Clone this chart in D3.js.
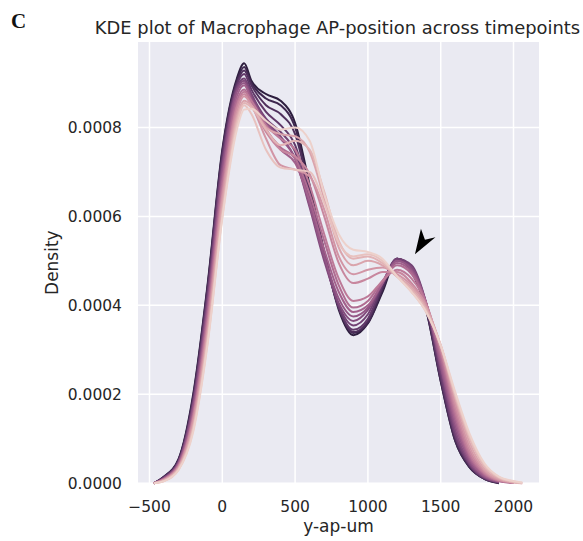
<!DOCTYPE html>
<html>
<head>
<meta charset="utf-8">
<script src="https://cdn.jsdelivr.net/npm/d3@7"></script>
<style>
    html, body { margin: 0; padding: 0; background: #fff; }
    svg text { font-family: 'DejaVu Sans', sans-serif; fill: #262626; }
</style>
</head>
<body>
<div id="chart"></div>
<script>
var xGrid = [-470, -400, -300, -200, -100, 0, 100, 150, 200, 300, 400, 500, 600, 700, 800, 900, 1000, 1100, 1200, 1300, 1400, 1500, 1600, 1700, 1800, 1900, 2000, 2060];

// density per timepoint, in units of 1e-4 (lightest first)
var tp00 = [0, 0.05, 0.3, 1.15, 3.15, 5.95, 7.95, 8.4, 8.42, 8.15, 7.95, 8.0, 7.7, 6.5, 5.6, 5.25, 5.2, 5.05, 4.65, 4.3, 3.85, 3.1, 2.05, 1.1, 0.45, 0.15, 0.05, 0.01];
var tp01 = [0, 0.05, 0.31, 1.2, 3.2, 6.0, 8.05, 8.5, 8.3, 7.5, 7.1, 7.05, 7.0, 6.3, 5.4, 5.1, 5.15, 5.0, 4.65, 4.3, 3.85, 3.1, 2.0, 1.05, 0.42, 0.14, 0.04, 0.01];
var tp02 = [0, 0.06, 0.33, 1.25, 3.3, 6.1, 8.15, 8.55, 8.45, 7.95, 7.6, 7.7, 7.5, 6.55, 5.45, 5.05, 5.1, 4.95, 4.65, 4.35, 3.9, 3.1, 1.95, 1.0, 0.38, 0.12, 0.03, 0];
var tp03 = [0, 0.07, 0.35, 1.3, 3.4, 6.25, 8.25, 8.6, 8.5, 8.0, 7.85, 7.8, 7.45, 6.4, 5.3, 4.9, 5.0, 4.9, 4.65, 4.4, 3.95, 3.1, 1.9, 0.9, 0.32, 0.1, 0.02, 0];
var tp04 = [0, 0.08, 0.37, 1.4, 3.5, 6.4, 8.35, 8.7, 8.5, 7.75, 7.15, 7.05, 6.9, 6.15, 5.1, 4.7, 4.8, 4.85, 4.7, 4.45, 4.0, 3.05, 1.8, 0.8, 0.28, 0.08, 0.02, null];
var tp05 = [0, 0.08, 0.38, 1.45, 3.6, 6.5, 8.45, 8.75, 8.5, 7.9, 7.5, 7.35, 6.95, 6.0, 4.95, 4.5, 4.6, 4.75, 4.75, 4.5, 4.0, 3.0, 1.7, 0.72, 0.25, 0.07, 0.02, null];
var tp06 = [0, 0.09, 0.4, 1.5, 3.7, 6.6, 8.5, 8.8, 8.6, 8.05, 7.75, 7.5, 6.7, 5.6, 4.6, 4.1, 4.2, 4.55, 4.8, 4.6, 4.05, 2.95, 1.6, 0.65, 0.22, 0.06, 0.01, null];
var tp07 = [0, 0.1, 0.42, 1.55, 3.8, 6.75, 8.6, 8.85, 8.55, 7.95, 7.55, 7.3, 6.5, 5.45, 4.45, 3.95, 4.1, 4.55, 4.9, 4.7, 4.05, 2.85, 1.5, 0.6, 0.2, 0.05, 0.01, null];
var tp08 = [0, 0.1, 0.44, 1.6, 3.9, 6.85, 8.7, 8.95, 8.6, 7.95, 7.5, 7.2, 6.35, 5.25, 4.3, 3.85, 4.0, 4.5, 4.95, 4.75, 4.05, 2.75, 1.4, 0.55, 0.17, 0.05, 0.01, null];
var tp09 = [0, 0.11, 0.46, 1.7, 4.0, 7.0, 8.8, 9.0, 8.65, 8.1, 7.75, 7.3, 6.25, 5.1, 4.15, 3.75, 3.95, 4.5, 5.0, 4.8, 4.05, 2.65, 1.3, 0.5, 0.15, 0.04, null, null];
var tp10 = [0, 0.12, 0.47, 1.75, 4.1, 7.1, 8.85, 9.05, 8.7, 8.15, 7.8, 7.3, 6.2, 5.0, 4.05, 3.65, 3.9, 4.5, 5.0, 4.85, 4.05, 2.6, 1.2, 0.45, 0.14, 0.03, null, null];
var tp11 = [0, 0.12, 0.48, 1.8, 4.2, 7.2, 8.9, 9.1, 8.75, 8.2, 7.9, 7.45, 6.35, 5.1, 4.0, 3.55, 3.8, 4.5, 5.05, 4.9, 4.05, 2.5, 1.1, 0.42, 0.12, 0.03, null, null];
var tp12 = [0, 0.13, 0.5, 1.85, 4.3, 7.3, 8.95, 9.2, 8.85, 8.35, 8.05, 7.6, 6.45, 5.1, 3.95, 3.45, 3.7, 4.45, 5.05, 4.85, 4.0, 2.4, 1.05, 0.4, 0.12, 0.02, null, null];
var tp13 = [0, 0.14, 0.52, 1.9, 4.4, 7.4, 9.0, 9.28, 8.95, 8.5, 8.3, 7.85, 6.55, 5.15, 3.95, 3.4, 3.65, 4.4, 5.05, 4.8, 3.95, 2.35, 1.0, 0.38, 0.1, 0.02, null, null];
var tp14 = [0, 0.15, 0.54, 1.95, 4.45, 7.45, 9.05, 9.36, 9.0, 8.65, 8.5, 8.0, 6.6, 5.2, 3.95, 3.38, 3.6, 4.35, 5.05, 4.8, 3.9, 2.3, 0.95, 0.35, 0.1, 0.01, null, null];
var tp15 = [0, 0.15, 0.55, 2.0, 4.5, 7.5, 9.1, 9.44, 9.05, 8.75, 8.6, 8.1, 6.7, 5.2, 3.9, 3.33, 3.6, 4.3, 5.05, 4.75, 3.9, 2.3, 0.95, 0.35, 0.1, 0.0, null, null];

var timepoints = [0, 1, 2, 3, 4, 5, 6, 7, 8, 9, 10, 11, 12, 13, 14, 15];
var densities = [tp00, tp01, tp02, tp03, tp04, tp05, tp06, tp07, tp08, tp09, tp10, tp11, tp12, tp13, tp14, tp15];

var xTicks = [-500, 0, 500, 1000, 1500, 2000];
var xTickLabels = ['\u2212500', '0', '500', '1000', '1500', '2000'];
var yTicks = [0, 2, 4, 6, 8];
var yTickLabels = ['0.0000', '0.0002', '0.0004', '0.0006', '0.0008'];

// arrow marks the second (posterior) peak
var arrowTip = [1323, 5.15];

var KdeChart = function (element) {
    var _width = 583,
        _height = 541,
        _left = 138,
        _right = 539,
        _top = 42,
        _bottom = 483.3,
        _svg, _plotG;

    var _x = d3.scaleLinear().domain([-579, 2175]).range([_left, _right]),
        _y = d3.scaleLinear().domain([0, 9.92]).range([_bottom, _top]),
        _hue = d3.scaleLinear().domain([timepoints[0], timepoints[timepoints.length - 1]]).range([0.85, 0.15]);

    // seaborn default cubehelix palette (start 0, rot .4, hue .8)
    function cubehelix(l) {
        var a = 0.8 * l * (1 - l) / 2,
            phi = 2 * Math.PI * (0.4 * l),
            c = Math.cos(phi),
            s = Math.sin(phi);
        var r = l + a * (-0.14861 * c + 1.78277 * s),
            g = l + a * (-0.29227 * c - 0.90649 * s),
            b = l + a * (1.97294 * c);
        return d3.rgb(r * 255, g * 255, b * 255).formatHex();
    }

    function render() {
        _svg = d3.select(element).append('svg').attr('width', _width).attr('height', _height);
        _svg.append('rect').attr('width', _width).attr('height', _height).attr('fill', '#fff');

        _plotG = _svg.append('g');
        _plotG.append('rect')
            .attr('x', _left).attr('y', _top)
            .attr('width', _right - _left).attr('height', _bottom - _top)
            .attr('fill', '#eaeaf2');

        renderGrid();
        renderCurves();
        renderArrow();
        renderText();
    }

    function renderGrid() {
        _plotG.selectAll('line.vgrid').data(xTicks).enter().append('line')
            .attr('x1', function (d) { return _x(d); }).attr('x2', function (d) { return _x(d); })
            .attr('y1', _top).attr('y2', _bottom)
            .attr('stroke', '#fff').attr('stroke-width', 1.5);

        _plotG.selectAll('line.hgrid').data(yTicks).enter().append('line')
            .attr('y1', function (d) { return _y(d); }).attr('y2', function (d) { return _y(d); })
            .attr('x1', _left).attr('x2', _right)
            .attr('stroke', '#fff').attr('stroke-width', 1.5);
    }

    function renderCurves() {
        var line = d3.line()
            .defined(function (d) { return d[1] !== null; })
            .x(function (d) { return _x(d[0]); })
            .y(function (d) { return _y(d[1]); })
            .curve(d3.curveMonotoneX);

        // darkest drawn first so the light ones sit on top
        var order = timepoints.slice().reverse();

        _plotG.append('g').selectAll('path')
            .data(order)
            .enter()
            .append('path')
            .attr('fill', 'none')
            .attr('stroke', function (t) { return cubehelix(_hue(t)); })
            .attr('stroke-width', 2)
            .attr('stroke-linejoin', 'round')
            .attr('d', function (t) {
                var values = densities[timepoints.indexOf(t)];
                return line(xGrid.map(function (x, i) { return [x, values[i]]; }));
            });
    }

    function renderArrow() {
        var tx = _x(arrowTip[0]),
            ty = _y(arrowTip[1]);
        _plotG.append('path')
            .attr('d', 'M' + tx + ',' + ty +
                       'L' + (tx + 6) + ',' + (ty - 25.5) +
                       'L' + (tx + 10) + ',' + (ty - 14.5) +
                       'L' + (tx + 20.5) + ',' + (ty - 17) + 'Z')
            .attr('fill', '#000');
    }

    function renderText() {
        _svg.append('g').selectAll('text').data(xTicks).enter().append('text')
            .attr('x', function (d) { return _x(d); })
            .attr('y', 512)
            .attr('text-anchor', 'middle')
            .style('font-size', '15.5px')
            .text(function (d, i) { return xTickLabels[i]; });

        _svg.append('g').selectAll('text').data(yTicks).enter().append('text')
            .attr('x', 122)
            .attr('y', function (d) { return _y(d) + 5.7; })
            .attr('text-anchor', 'end')
            .style('font-size', '15.5px')
            .text(function (d, i) { return yTickLabels[i]; });

        _svg.append('text')
            .attr('x', (_left + _right) / 2).attr('y', 532)
            .attr('text-anchor', 'middle')
            .style('font-size', '17px')
            .text('y-ap-um');

        _svg.append('text')
            .attr('transform', 'translate(58,' + ((_top + _bottom) / 2) + ') rotate(-90)')
            .attr('text-anchor', 'middle')
            .style('font-size', '17px')
            .text('Density');

        _svg.append('text')
            .attr('x', (_left + _right) / 2 - 1).attr('y', 33.5)
            .attr('text-anchor', 'middle')
            .style('font-size', '17.9px')
            .text('KDE plot of Macrophage AP-position across timepoints');

        _svg.append('text')
            .attr('x', 11).attr('y', 28)
            .style('font-family', "'Liberation Serif', 'Times New Roman', serif")
            .style('font-weight', 'bold')
            .style('font-size', '21px')
            .style('fill', '#111')
            .text('C');
    }

    render();
};

KdeChart(document.getElementById('chart'));
</script>
</body>
</html>
